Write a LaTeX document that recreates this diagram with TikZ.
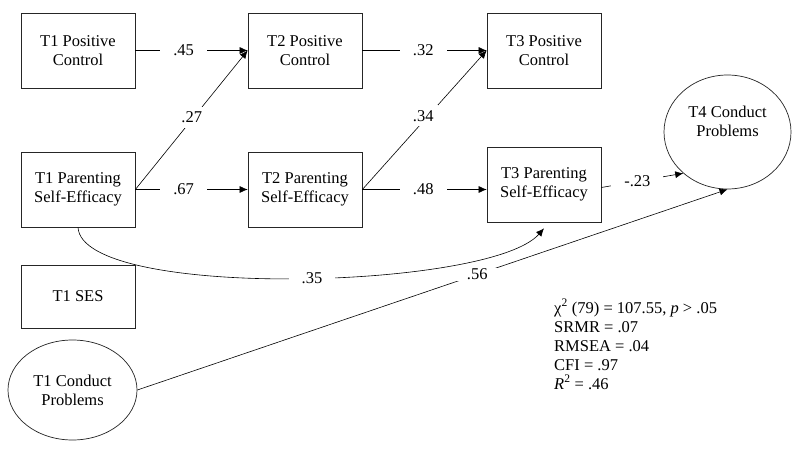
\documentclass[tikz,border=0pt]{standalone}
\usepackage{fontspec}
\setmainfont{Liberation Serif}
\usetikzlibrary{shapes.geometric,arrows.meta,calc}
\begin{document}
\begin{tikzpicture}[x=1pt,y=-1pt,
  txt/.style={font=\fontsize{16.5}{19}\selectfont},
  box/.style={txt, draw=black!85, line width=0.7pt, minimum width=114pt, minimum height=75pt, align=center, inner sep=0pt},
  ell/.style={txt, draw=black!85, ellipse, line width=0.7pt, align=center, inner sep=0pt},
  conn/.style={line width=0.6pt, -{Latex[length=8pt,width=7pt]}},
  lab/.style={txt, fill=white, inner xsep=13pt, inner ysep=1pt},
  dlab/.style={txt, fill=white, inner xsep=4pt, inner ysep=5pt}
]
\useasboundingbox[fill=white] (0,0) rectangle (800,449);

\node[box] (t1pc) at (78,50.5) {T1 Positive\\Control};
\node[box] (t2pc) at (305,50.5) {T2 Positive\\Control};
\node[box] (t3pc) at (544,50.5) {T3 Positive\\Control};
\node[box] (t1pse) at (78,189.5) {T1 Parenting\\Self-Efficacy};
\node[box] (t2pse) at (305,189.5) {T2 Parenting\\Self-Efficacy};
\node[box] (t3pse) at (544,184.5) {T3 Parenting\\Self-Efficacy};
\node[box, minimum height=63pt] (t1ses) at (78,296.5) {T1 SES};
\node[ell, minimum width=129pt, minimum height=100pt] (t1cp) at (72.5,390) {T1 Conduct\\Problems};
\node[ell, minimum width=127pt, minimum height=114pt] (t4cp) at (727.5,132) {T4 Conduct\\Problems\\[3pt]};

\draw[conn] (t1pc.east) -- (t2pc.west) node[lab, pos=0.43] {.45};
\draw[conn] (t2pc.east) -- (t3pc.west) node[lab, pos=0.49] {.32};
\draw[conn] (t1pse.east) -- (t2pc.west) node[dlab, pos=0.52, xshift=-2pt] {.27};
\draw[conn] (t1pse.east) -- (t2pse.west) node[lab, pos=0.43] {.67};
\draw[conn] (t2pse.east) -- (t3pc.west) node[dlab, pos=0.53, xshift=-5pt] {.34};
\draw[conn] (t2pse.east) -- (t2pse.east -| t3pse.west) node[lab, pos=0.49] {.48};
\draw[conn] ($(t3pse.east)+(0,3)$) -- (t4cp.223) node[lab, pos=0.44] {-.23};
\draw[conn] (t1pse.south) .. controls (82,300) and (490,290) .. ($(t3pse.south)+(0,6)$) node[lab, pos=0.53] {.35};
\draw[conn] (t1cp.east) -- (t4cp.south) node[lab, pos=0.576] {.56};

\node[txt, align=left, anchor=north west, inner sep=0pt] (fit) at (554,299)
  {χ\textsuperscript{2} (79) = 107.55, \textit{p} > .05\\
   SRMR = .07\\
   RMSEA = .04\\
   CFI = .97\\
   \textit{R}\textsuperscript{2} = .46};
\end{tikzpicture}
\end{document}
